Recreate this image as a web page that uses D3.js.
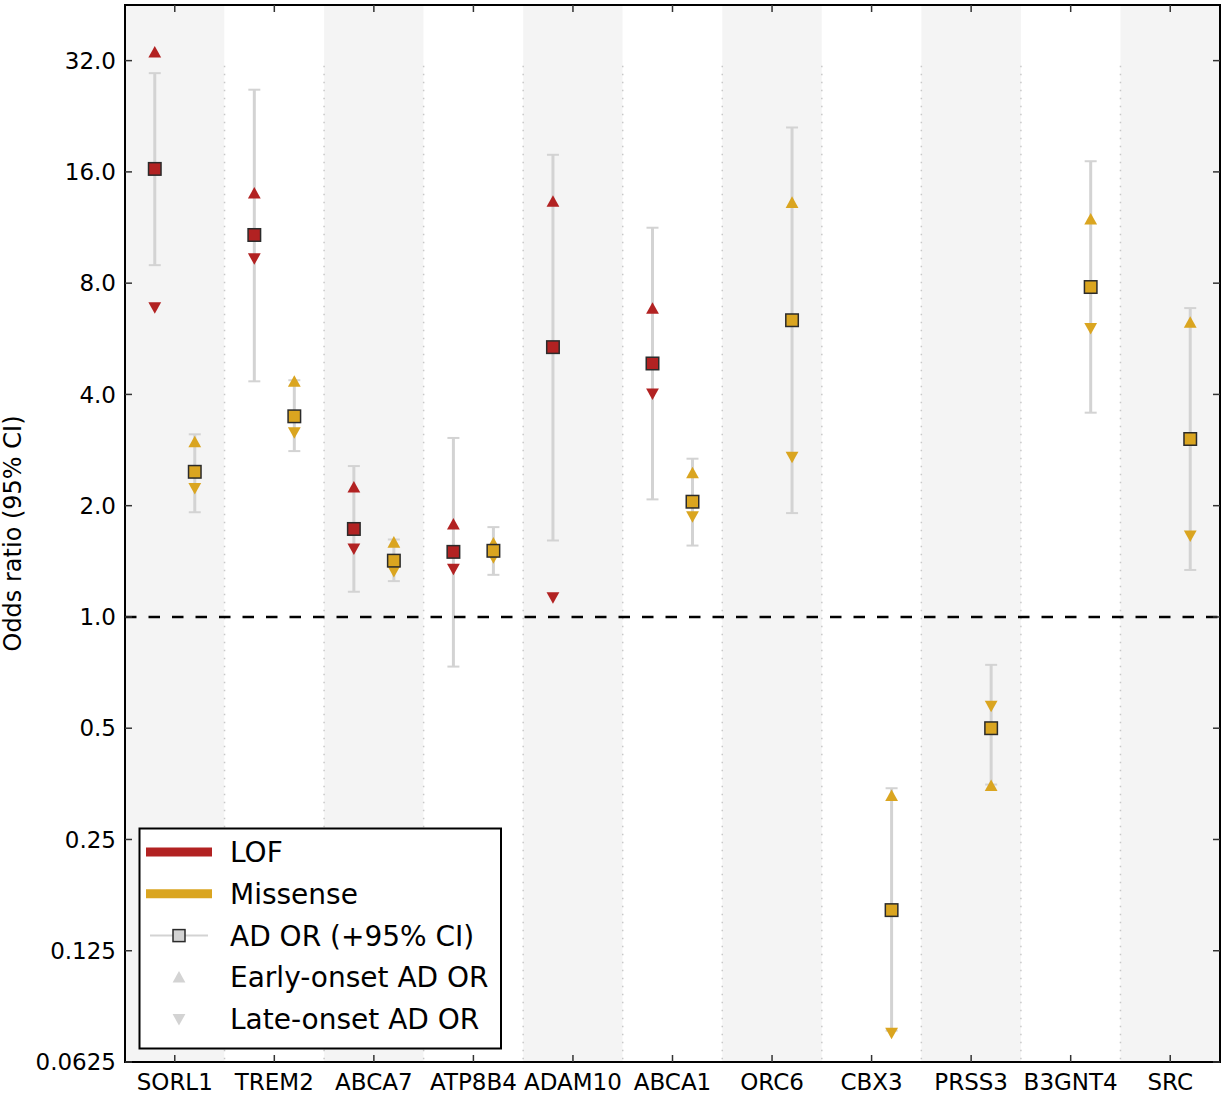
<!DOCTYPE html>
<html>
<head>
<meta charset="utf-8">
<script src="https://cdn.jsdelivr.net/npm/d3@7"></script>
<style>
  html, body { margin: 0; padding: 0; background: #fff; }
  svg { display: block; font-family: "DejaVu Sans", sans-serif; }
</style>
</head>
<body>
<svg id="chart" width="1225" height="1098"></svg>
<script>
// Genes along the x axis
const genes = ["SORL1", "TREM2", "ABCA7", "ATP8B4", "ADAM10", "ABCA1", "ORC6", "CBX3", "PRSS3", "B3GNT4", "SRC"];

// Loss-of-function variants: AD odds ratio, 95% CI, early- and late-onset OR
const lofOR    = [16.3, 10.8, 1.73, 1.50, 5.37, 4.85, null, null, null, null, null];
const lofLow   = [8.95, 4.34, 1.17, 0.734, 1.61, 2.08, null, null, null, null, null];
const lofHigh  = [29.6, 26.7, 2.56, 3.05, 17.8, 11.3, null, null, null, null, null];
const lofEarly = [33.7, 14.0, 2.24, 1.78, 13.3, 6.83, null, null, null, null, null];
const lofLate  = [6.88, 9.33, 1.53, 1.35, 1.13, 4.02, null, null, null, null, null];

// Missense variants
const misOR    = [2.47, 3.49, 1.42, 1.51, null, 2.05, 6.35, 0.161, 0.50, 7.81, 3.03];
const misLow   = [1.92, 2.81, 1.25, 1.30, null, 1.56, 1.91, 0.076, 0.352, 3.57, 1.34];
const misHigh  = [3.12, 4.37, 1.62, 1.75, null, 2.68, 21.1, 0.344, 0.742, 17.1, 6.85];
const misEarly = [2.97, 4.33, 1.59, 1.58, null, 2.45, 13.2, 0.328, 0.349, 11.9, 6.26];
const misLate  = [2.23, 3.16, 1.33, 1.45, null, 1.87, 2.71, 0.0749, 0.575, 6.05, 1.66];

// y axis ticks (log2 scale)
const yTicks = [0.0625, 0.125, 0.25, 0.5, 1, 2, 4, 8, 16, 32];
const yTickLabels = ["0.0625", "0.125", "0.25", "0.5", "1.0", "2.0", "4.0", "8.0", "16.0", "32.0"];

const series = [
  { name: "LOF", color: "#b22222", offset: -20, or: lofOR, lo: lofLow, hi: lofHigh, early: lofEarly, late: lofLate },
  { name: "Missense", color: "#daa520", offset: 20, or: misOR, lo: misLow, hi: misHigh, early: misEarly, late: misLate }
];

const legendItems = ["LOF", "Missense", "AD OR (+95% CI)", "Early-onset AD OR", "Late-onset AD OR"];

const svg = d3.select("#chart");
const plot = { left: 125, right: 1220, top: 5, bottom: 1062 };

const x = d3.scaleBand().domain(genes).range([plot.left, plot.right]).padding(0);
const y = d3.scaleLog().base(2).domain([Math.pow(2, -4), Math.pow(2, 5.5)]).range([plot.bottom, plot.top]);

svg.append("defs").append("clipPath").attr("id", "clip")
  .append("rect").attr("x", plot.left).attr("y", plot.top)
  .attr("width", plot.right - plot.left).attr("height", plot.bottom - plot.top);

const inner = svg.append("g").attr("clip-path", "url(#clip)");

// alternating gene bands
inner.selectAll("rect.band").data(genes).enter().append("rect")
  .attr("class", "band")
  .attr("x", d => x(d)).attr("y", plot.top)
  .attr("width", x.bandwidth()).attr("height", plot.bottom - plot.top)
  .attr("fill", (d, i) => i % 2 === 0 ? "#f4f4f4" : "#ffffff");

// dotted separators between genes
inner.selectAll("line.sep").data(genes.slice(1)).enter().append("line")
  .attr("class", "sep")
  .attr("x1", d => x(d)).attr("x2", d => x(d))
  .attr("y1", y(31)).attr("y2", plot.bottom)
  .attr("stroke", "#c8c8c8").attr("stroke-width", 1.5)
  .attr("stroke-dasharray", "1.5 6.5");

// confidence intervals, early/late-onset markers and AD OR squares
const triSize = 6.4;
const upTri = `M0,${-triSize} L${triSize},${triSize * 0.8} L${-triSize},${triSize * 0.8} Z`;
const downTri = `M0,${triSize} L${triSize},${-triSize * 0.8} L${-triSize},${-triSize * 0.8} Z`;

series.forEach(s => {
  const pts = genes.map((g, i) => ({ g, or: s.or[i], lo: s.lo[i], hi: s.hi[i], early: s.early[i], late: s.late[i] }))
    .filter(p => p.or !== null);
  const cx = p => x(p.g) + x.bandwidth() / 2 + s.offset;
  const grp = inner.append("g");

  grp.selectAll("line.ci").data(pts).enter().append("line")
    .attr("x1", cx).attr("x2", cx)
    .attr("y1", p => y(p.lo)).attr("y2", p => y(p.hi))
    .attr("stroke", "#d3d3d3").attr("stroke-width", 3);
  ["lo", "hi"].forEach(k => {
    grp.selectAll("line.cap" + k).data(pts).enter().append("line")
      .attr("x1", p => cx(p) - 6).attr("x2", p => cx(p) + 6)
      .attr("y1", p => y(p[k])).attr("y2", p => y(p[k]))
      .attr("stroke", "#d3d3d3").attr("stroke-width", 2);
  });
  grp.selectAll("path.early").data(pts).enter().append("path")
    .attr("d", upTri)
    .attr("transform", p => `translate(${cx(p)},${y(p.early)})`)
    .attr("fill", s.color);
  grp.selectAll("path.late").data(pts).enter().append("path")
    .attr("d", downTri)
    .attr("transform", p => `translate(${cx(p)},${y(p.late)})`)
    .attr("fill", s.color);
  grp.selectAll("rect.or").data(pts).enter().append("rect")
    .attr("x", p => cx(p) - 6.25).attr("y", p => y(p.or) - 6.25)
    .attr("width", 12.5).attr("height", 12.5)
    .attr("fill", s.color).attr("stroke", "#2b2b2b").attr("stroke-width", 1.5);
});

// reference line at OR = 1
inner.append("line")
  .attr("x1", plot.left).attr("x2", plot.right)
  .attr("y1", y(1)).attr("y2", y(1))
  .attr("stroke", "#000").attr("stroke-width", 2.5)
  .attr("stroke-dasharray", "11.5 12");

// legend
const lg = svg.append("g");
lg.append("rect").attr("x", 139.5).attr("y", 828.5).attr("width", 361.5).attr("height", 220)
  .attr("fill", "#fff").attr("stroke", "#000").attr("stroke-width", 2);
const rowY = i => 852 + i * 41.8;
lg.append("line").attr("x1", 146).attr("x2", 212).attr("y1", rowY(0)).attr("y2", rowY(0))
  .attr("stroke", series[0].color).attr("stroke-width", 9);
lg.append("line").attr("x1", 146).attr("x2", 212).attr("y1", rowY(1)).attr("y2", rowY(1))
  .attr("stroke", series[1].color).attr("stroke-width", 9);
lg.append("line").attr("x1", 150).attr("x2", 208).attr("y1", rowY(2)).attr("y2", rowY(2))
  .attr("stroke", "#d3d3d3").attr("stroke-width", 2);
lg.append("rect").attr("x", 173).attr("y", rowY(2) - 6).attr("width", 12).attr("height", 12)
  .attr("fill", "#d3d3d3").attr("stroke", "#2b2b2b").attr("stroke-width", 1.5);
lg.append("path").attr("d", upTri).attr("transform", `translate(179,${rowY(3)})`).attr("fill", "#d3d3d3");
lg.append("path").attr("d", downTri).attr("transform", `translate(179,${rowY(4)})`).attr("fill", "#d3d3d3");
lg.selectAll("text").data(legendItems).enter().append("text")
  .attr("x", 230).attr("y", (d, i) => rowY(i)).attr("dy", "0.36em")
  .attr("font-size", 28).attr("fill", "#000").text(d => d);

// frame and ticks
const ax = svg.append("g");
ax.append("rect").attr("x", plot.left).attr("y", plot.top)
  .attr("width", plot.right - plot.left).attr("height", plot.bottom - plot.top)
  .attr("fill", "none").attr("stroke", "#000").attr("stroke-width", 2);

const tickLen = 7;
yTicks.forEach((v, i) => {
  ax.append("line").attr("x1", plot.left).attr("x2", plot.left + tickLen)
    .attr("y1", y(v)).attr("y2", y(v)).attr("stroke", "#333").attr("stroke-width", 1.5);
  ax.append("line").attr("x1", plot.right - tickLen).attr("x2", plot.right)
    .attr("y1", y(v)).attr("y2", y(v)).attr("stroke", "#333").attr("stroke-width", 1.5);
  ax.append("text").attr("x", plot.left - 9).attr("y", y(v)).attr("dy", "0.36em")
    .attr("text-anchor", "end").attr("font-size", 23).attr("fill", "#000")
    .text(yTickLabels[i]);
});
genes.forEach(g => {
  const cx = x(g) + x.bandwidth() / 2;
  ax.append("line").attr("x1", cx).attr("x2", cx).attr("y1", plot.bottom - tickLen).attr("y2", plot.bottom)
    .attr("stroke", "#333").attr("stroke-width", 1.5);
  ax.append("line").attr("x1", cx).attr("x2", cx).attr("y1", plot.top).attr("y2", plot.top + tickLen)
    .attr("stroke", "#333").attr("stroke-width", 1.5);
  ax.append("text").attr("x", cx).attr("y", 1090)
    .attr("text-anchor", "middle").attr("font-size", 23).attr("fill", "#000").text(g);
});

// y axis title
svg.append("text")
  .attr("transform", `translate(21,${(plot.top + plot.bottom) / 2}) rotate(-90)`)
  .attr("text-anchor", "middle").attr("font-size", 24).attr("fill", "#000")
  .text("Odds ratio (95% CI)");
</script>
</body>
</html>
